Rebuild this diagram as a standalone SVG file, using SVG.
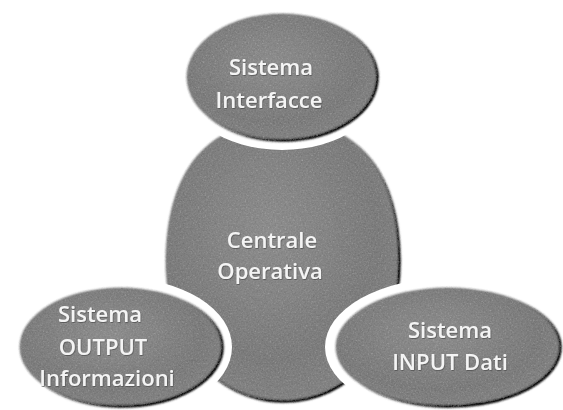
<svg xmlns="http://www.w3.org/2000/svg" width="563" height="410" viewBox="0 0 563 410">
<defs>
<radialGradient id="fillG" cx="0.45" cy="0.4" r="0.75">
<stop offset="0" stop-color="#9c9c9c"/>
<stop offset="0.6" stop-color="#8e8e8e"/>
<stop offset="0.85" stop-color="#959595"/>
<stop offset="1" stop-color="#a4a4a4"/>
</radialGradient>
<linearGradient id="edgeG" x1="0" y1="0" x2="1" y2="1">
<stop offset="0.45" stop-color="#222" stop-opacity="0"/>
<stop offset="0.75" stop-color="#222" stop-opacity="0.85"/>
<stop offset="1" stop-color="#111" stop-opacity="1"/>
</linearGradient>
<filter id="ts" x="-10%" y="-30%" width="120%" height="160%">
<feDropShadow dx="0.6" dy="0.8" stdDeviation="0.7" flood-color="#444" flood-opacity="0.8"/>
</filter>
<filter id="grain" x="-5%" y="-5%" width="110%" height="110%">
<feGaussianBlur in="SourceGraphic" stdDeviation="0.8" result="b"/>
<feTurbulence type="fractalNoise" baseFrequency="0.6" numOctaves="2" seed="4" result="t"/>
<feColorMatrix in="t" type="saturate" values="0" result="g"/>
<feComposite in="g" in2="b" operator="arithmetic" k1="0" k2="0.3" k3="1" k4="-0.15" result="m"/>
<feComposite in="m" in2="b" operator="in"/>
</filter>
</defs>
<style>
.shape{fill:url(#fillG);stroke:url(#edgeG);stroke-width:3.5;filter:url(#grain)}
.halo{fill:#fff}
.lbl{font-family:"Open Sans","Liberation Sans",sans-serif;font-size:22px;font-weight:600;fill:#f4f4f4;text-anchor:middle;filter:url(#ts)}
</style>
<rect width="563" height="410" fill="#fff"/>
<g id="centrale">
<path class="shape" d="M165,262 C165,180 200,120 283,120 C366,120 400,180 400,262 C400,345 350,402 283,402 C216,402 165,345 165,262 Z"/>
<text class="lbl" x="272" y="248">Centrale</text>
<text class="lbl" x="270" y="279">Operativa</text>
</g>
<g id="interfacce">
<ellipse class="halo" cx="282" cy="77" rx="105" ry="73"/>
<ellipse class="shape" cx="282" cy="77" rx="96" ry="64"/>
<text class="lbl" x="271" y="75">Sistema</text>
<text class="lbl" x="269" y="108">Interfacce</text>
</g>
<g id="output">
<ellipse class="halo" cx="121" cy="347" rx="111" ry="69"/>
<ellipse class="shape" cx="121" cy="347" rx="102" ry="60"/>
<text class="lbl" x="100" y="322">Sistema</text>
<text class="lbl" x="103" y="355">OUTPUT</text>
<text class="lbl" x="107" y="386">Informazioni</text>
</g>
<g id="input">
<ellipse class="halo" cx="448" cy="347" rx="123" ry="69"/>
<ellipse class="shape" cx="448" cy="347" rx="113" ry="60"/>
<text class="lbl" x="450" y="338">Sistema</text>
<text class="lbl" x="450" y="370">INPUT Dati</text>
</g>
<g id="connectors"/>
</svg>
